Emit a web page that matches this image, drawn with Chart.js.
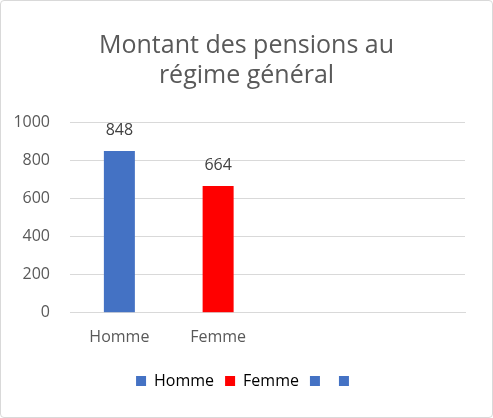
<!DOCTYPE html>
<html>
<head>
<meta charset="utf-8">
<script src="https://cdn.jsdelivr.net/npm/chart.js@4"></script>
<style>
  html, body { margin: 0; padding: 0; background: #fff; }
  #wrap { position: relative; width: 491px; height: 416px; border: 1px solid #d9d9d9; border-radius: 4px; }
</style>
</head>
<body>
<div id="wrap"><canvas id="chart"></canvas></div>
<script>
const categories = ["Homme", "Femme", "", ""];
const pensions = [848, 664, null, null];
const barColors = ["#4472c4", "#ff0000", "#4472c4", "#4472c4"];
const titleLines = ["Montant des pensions au", "régime général"];
const yTicks = { min: 0, max: 1000, step: 200 };

const fontFamily = "'Open Sans', 'Noto Sans', sans-serif";
const grey = "#595959";

// Ecrit la valeur au-dessus de chaque barre
const valueLabels = {
  id: "valueLabels",
  afterDatasetsDraw(chart) {
    const ctx = chart.ctx;
    const meta = chart.getDatasetMeta(0);
    ctx.save();
    ctx.font = `16px ${fontFamily}`;
    ctx.fillStyle = "#404040";
    ctx.textAlign = "center";
    ctx.textBaseline = "alphabetic";
    meta.data.forEach((bar, i) => {
      const v = chart.data.datasets[0].data[i];
      if (v === null) return;
      ctx.fillText(String(v), bar.x, bar.y - 16);
    });
    ctx.restore();
  }
};

new Chart(document.getElementById("chart"), {
  type: "bar",
  data: {
    labels: categories,
    datasets: [{
      label: "Montant",
      data: pensions,
      backgroundColor: barColors,
      barPercentage: 0.314,
      categoryPercentage: 1
    }]
  },
  options: {
    responsive: true,
    maintainAspectRatio: false,
    animation: false,
    layout: { padding: { left: 0, right: 0, top: 30, bottom: 18 } },
    plugins: {
      tooltip: { enabled: false },
      title: {
        display: true,
        text: titleLines,
        color: grey,
        font: { family: fontFamily, size: 25, weight: "normal", lineHeight: 1.2 },
        padding: { top: 0, bottom: 31 }
      },
      legend: {
        position: "bottom",
        labels: {
          color: grey,
          font: { family: fontFamily, size: 16 },
          boxWidth: 10,
          boxHeight: 10,
          padding: 11,
          generateLabels: chart => categories.map((c, i) => ({
            text: c,
            fillStyle: barColors[i],
            strokeStyle: barColors[i],
            lineWidth: 0,
            index: i
          }))
        },
        onClick: () => {}
      }
    },
    scales: {
      x: {
        grid: { display: false },
        border: { color: "#d9d9d9" },
        afterFit: scale => { scale.height += 8; },
        ticks: { color: grey, font: { family: fontFamily, size: 16 }, padding: 7 }
      },
      y: {
        min: yTicks.min,
        max: yTicks.max,
        afterFit: scale => { scale.width = 69; },
        ticks: {
          stepSize: yTicks.step,
          color: grey,
          font: { family: fontFamily, size: 16 },
          padding: 20,
          callback: v => String(v)
        },
        grid: { color: "#d9d9d9", drawTicks: false },
        border: { display: false }
      },
      // marge droite, pour garder titre et legende centres sur tout le cadre
      right: {
        type: "linear",
        position: "right",
        afterFit: scale => { scale.width = 27; },
        grid: { display: false },
        ticks: { display: false },
        border: { display: false }
      }
    }
  },
  plugins: [valueLabels]
});
</script>
</body>
</html>
